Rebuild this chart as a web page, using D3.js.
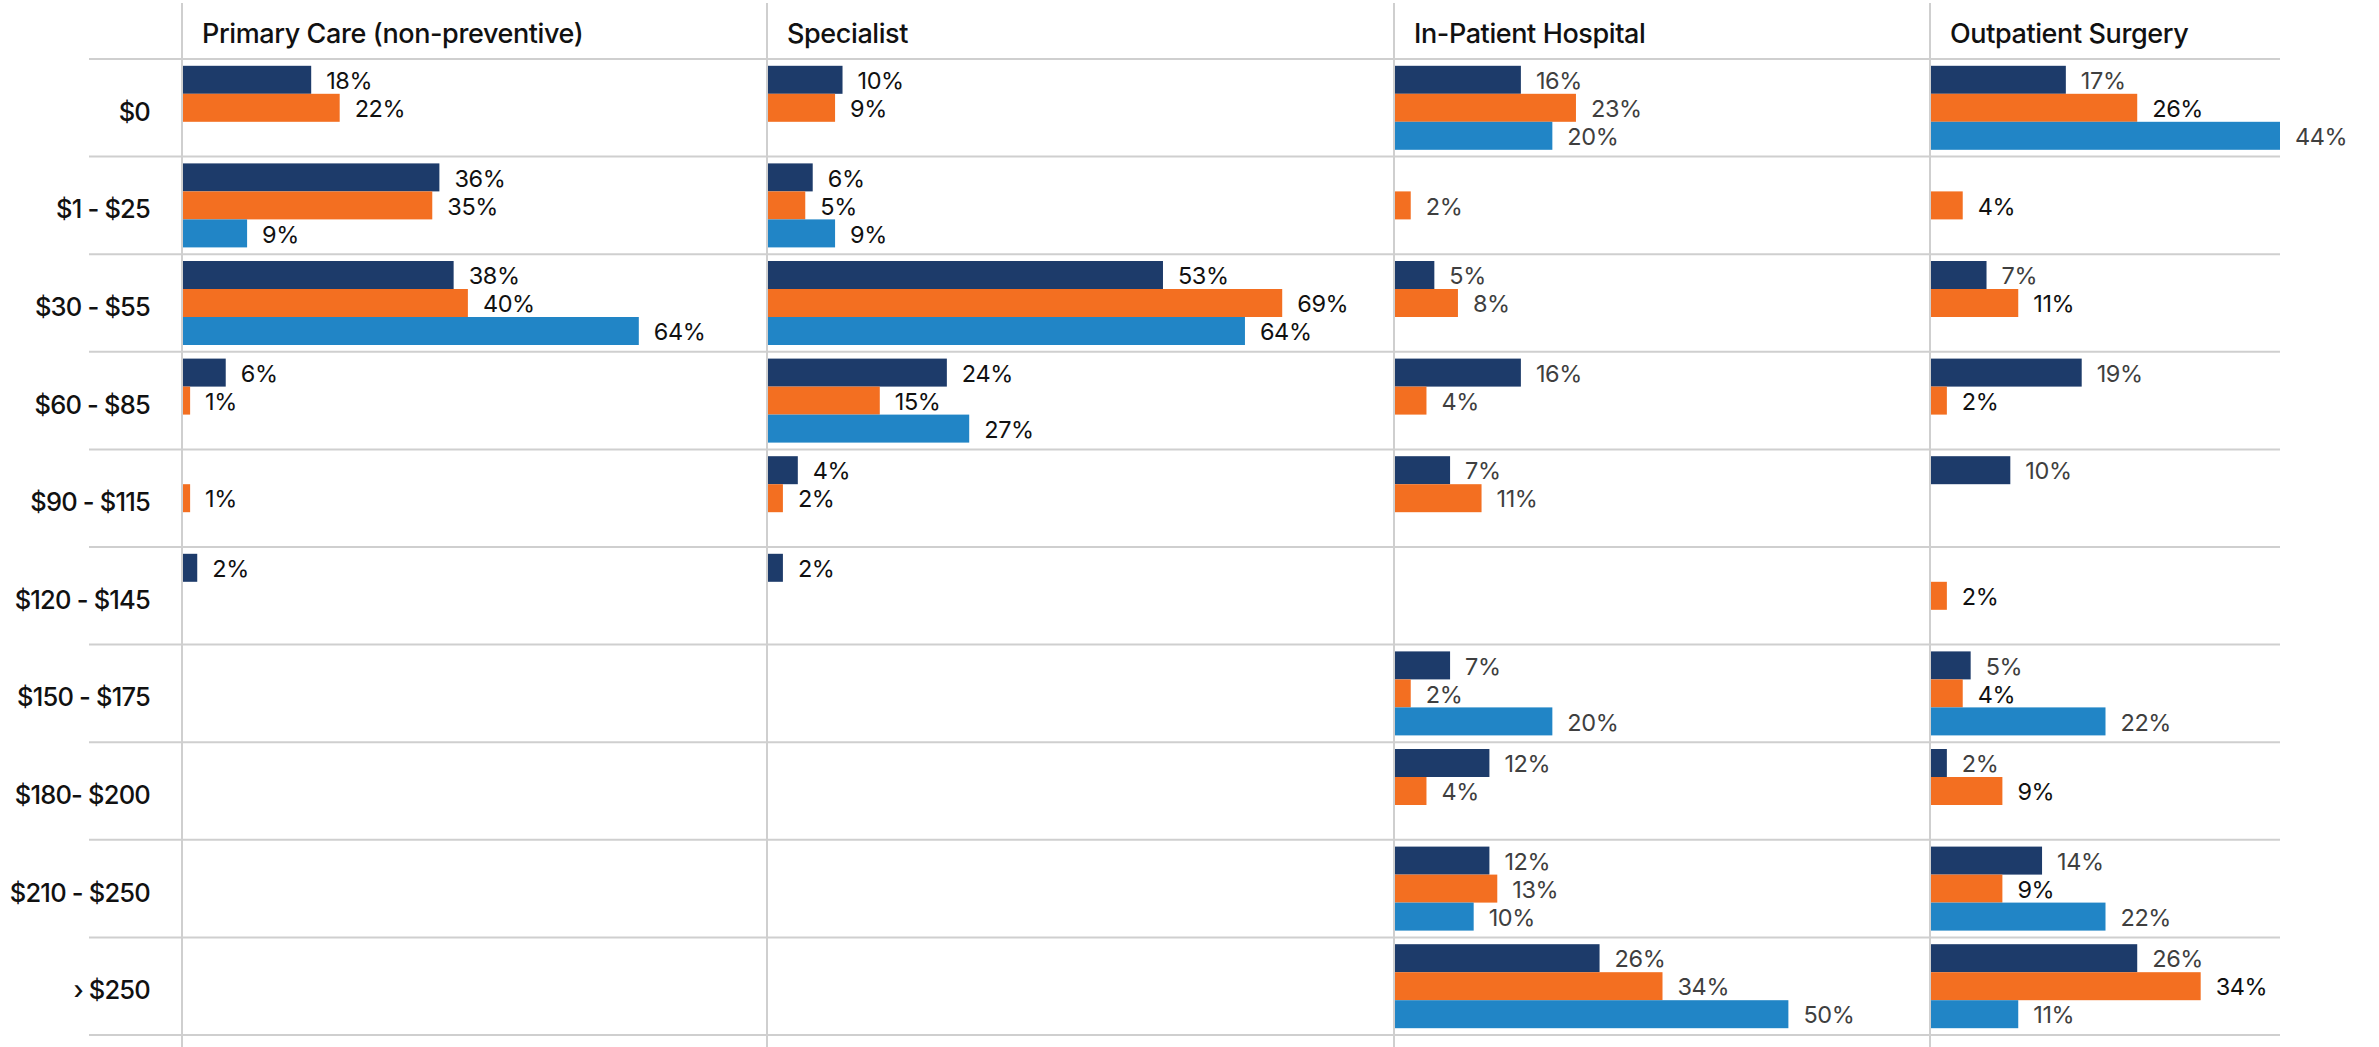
<!DOCTYPE html>
<html>
<head>
<meta charset="utf-8">
<script src="https://cdn.jsdelivr.net/npm/d3@7"></script>
<style>
  body { margin: 0; background: #fff; }
  svg { display: block; font-family: Inter, "Open Sans", sans-serif; }
</style>
</head>
<body>
<div id="chart"></div>
<script>
// Cost ranges (rows).
const categories = ["$0", "$1 - $25", "$30 - $55", "$60 - $85", "$90 - $115",
  "$120 - $145", "$150 - $175", "$180- $200", "$210 - $250", "\u203A $250"];

// Service types (panels).
const panelNames = ["Primary Care (non-preventive)", "Specialist", "In-Patient Hospital", "Outpatient Surgery"];

// Three series per row: navy, orange, light blue. null = no bar.
const primaryNavy   = [18, 36, 38, 6, null, 2, null, null, null, null];
const primaryOrange = [22, 35, 40, 1, 1, null, null, null, null, null];
const primaryBlue   = [null, 9, 64, null, null, null, null, null, null, null];

const specialistNavy   = [10, 6, 53, 24, 4, 2, null, null, null, null];
const specialistOrange = [9, 5, 69, 15, 2, null, null, null, null, null];
const specialistBlue   = [null, 9, 64, 27, null, null, null, null, null, null];

const inpatientNavy   = [16, null, 5, 16, 7, null, 7, 12, 12, 26];
const inpatientOrange = [23, 2, 8, 4, 11, null, 2, 4, 13, 34];
const inpatientBlue   = [20, null, null, null, null, null, 20, null, 10, 50];

const outpatientNavy   = [17, null, 7, 19, 10, null, 5, 2, 14, 26];
const outpatientOrange = [26, 4, 11, 2, null, 2, 4, 9, 9, 34];
const outpatientBlue   = [44, null, null, null, null, null, 22, null, 22, 11];

const seriesKeys = ["navy", "orange", "blue"];
const panelValues = [
  [primaryNavy, primaryOrange, primaryBlue],
  [specialistNavy, specialistOrange, specialistBlue],
  [inpatientNavy, inpatientOrange, inpatientBlue],
  [outpatientNavy, outpatientOrange, outpatientBlue]
];

// Layout.
const W = 2379, H = 1047;
const gridTop = 59, gridBottom = 1035;
const gridLeft = 89, gridRight = 2280;
const panelEdges = [182, 767, 1394, 1930, 2280];
const panelMax = [82, 84, 68, 44];   // x domain per panel
const colors = { navy: "#1d3b6a", orange: "#f36f21", blue: "#2185c6" };
const dark = "#111", grey = "#3f3f3f";
// label colour per panel per series
const labelColors = [
  [dark, dark, dark],
  [dark, dark, dark],
  [grey, grey, grey],
  [grey, dark, grey]
];

const svg = d3.select("#chart").append("svg")
  .attr("width", W)
  .attr("height", H);

const y = d3.scaleBand()
  .domain(categories)
  .range([gridTop, gridBottom]);

const ySub = d3.scaleBand()
  .domain(seriesKeys)
  .range([6.8, y.bandwidth() - 6.8]);

// Grid lines.
svg.append("g")
  .selectAll("line")
  .data(d3.range(categories.length + 1))
  .enter()
  .append("line")
  .attr("x1", gridLeft)
  .attr("x2", gridRight)
  .attr("y1", i => i < categories.length ? y(categories[i]) : gridBottom)
  .attr("y2", i => i < categories.length ? y(categories[i]) : gridBottom)
  .attr("stroke", "#cfcfcf")
  .attr("stroke-width", 2);

svg.append("g")
  .selectAll("line")
  .data(panelEdges.slice(0, 4))
  .enter()
  .append("line")
  .attr("x1", d => d)
  .attr("x2", d => d)
  .attr("y1", 3)
  .attr("y2", H)
  .attr("stroke", "#cfcfcf")
  .attr("stroke-width", 2);

// Row labels.
svg.append("g")
  .selectAll("text")
  .data(categories)
  .enter()
  .append("text")
  .attr("x", 150)
  .attr("y", d => y(d) + y.bandwidth() / 2 + 4)
  .attr("dy", "0.35em")
  .attr("text-anchor", "end")
  .attr("font-size", 25.5)
  .attr("font-weight", 500)
  .attr("letter-spacing", -0.8)
  .attr("fill", dark)
  .text(d => d);

// Panels.
panelNames.forEach((name, p) => {
  const x0 = panelEdges[p] + 1;
  const x = d3.scaleLinear()
    .domain([0, panelMax[p]])
    .range([x0, panelEdges[p + 1]]);

  const g = svg.append("g");

  g.append("text")
    .attr("x", panelEdges[p] + 20)
    .attr("y", 43)
    .attr("font-size", 27)
    .attr("font-weight", 500)
    .attr("letter-spacing", -0.4)
    .attr("fill", dark)
    .text(name);

  // flatten to one record per bar
  const bars = [];
  seriesKeys.forEach((s, si) => {
    panelValues[p][si].forEach((v, ci) => {
      if (v !== null) bars.push({ cat: categories[ci], series: s, si: si, value: v });
    });
  });

  g.selectAll("rect")
    .data(bars)
    .enter()
    .append("rect")
    .attr("x", x0)
    .attr("y", d => y(d.cat) + ySub(d.series))
    .attr("width", d => x(d.value) - x0)
    .attr("height", ySub.bandwidth())
    .attr("fill", d => colors[d.series]);

  g.selectAll("text.val")
    .data(bars)
    .enter()
    .append("text")
    .attr("class", "val")
    .attr("x", d => x(d.value) + 15)
    .attr("y", d => y(d.cat) + ySub(d.series) + ySub.bandwidth() / 2 + 1)
    .attr("dy", "0.35em")
    .attr("font-size", 23.5)
    .attr("letter-spacing", -0.4)
    .attr("fill", d => labelColors[p][d.si])
    .text(d => d.value + "%");
});
</script>
</body>
</html>
